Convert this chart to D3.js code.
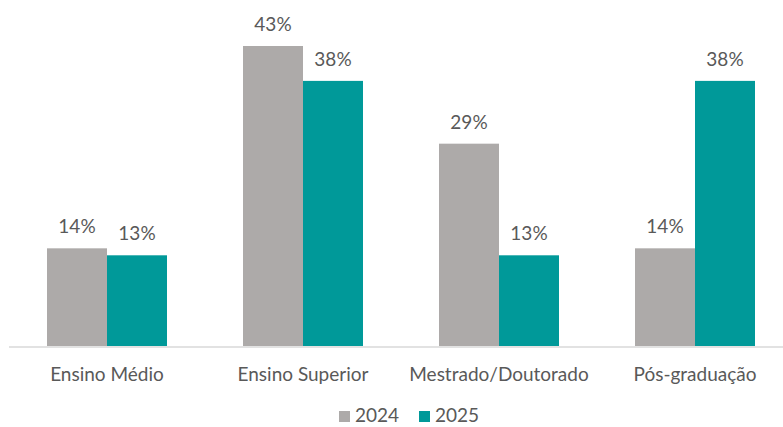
<!DOCTYPE html>
<html>
<head>
<meta charset="utf-8">
<script src="https://cdn.jsdelivr.net/npm/d3@7"></script>
<style>
  html, body { margin: 0; padding: 0; background: #fff; }
  svg { display: block; }
  text { font-family: Lato, "Open Sans", sans-serif; fill: #595959; }
</style>
</head>
<body>
<svg id="chart" width="783" height="427"></svg>
<script>
// Education level, share of respondents by year
const categories = ["Ensino Médio", "Ensino Superior", "Mestrado/Doutorado", "Pós-graduação"];
const series = ["2024", "2025"];
const values2024 = [14, 43, 29, 14];
const values2025 = [13, 38, 13, 38];
const colors = ["#ADAAA9", "#009999"];

const seriesValues = [values2024, values2025];
const rows = categories.map((c, i) => ({
  category: c,
  bars: series.map((s, j) => ({ series: s, value: seriesValues[j][i], color: colors[j] }))
}));

const svg = d3.select("#chart");
const baseY = 346;
const fontSize = "19px";

const x0 = d3.scaleBand()
  .domain(categories)
  .range([9, 793])
  .paddingInner(0.3878)
  .paddingOuter(0.1939);

const x1 = d3.scaleBand()
  .domain(series)
  .range([0, x0.bandwidth()]);

const y = d3.scaleLinear()
  .domain([0, 43])
  .range([baseY, 46]);

const groups = svg.append("g")
  .selectAll("g")
  .data(rows)
  .join("g")
  .attr("transform", d => `translate(${x0(d.category)},0)`);

groups.selectAll("rect")
  .data(d => d.bars)
  .join("rect")
  .attr("x", d => x1(d.series))
  .attr("width", x1.bandwidth())
  .attr("y", d => y(d.value))
  .attr("height", d => baseY - y(d.value))
  .attr("fill", d => d.color);

groups.selectAll("text.val")
  .data(d => d.bars)
  .join("text")
  .attr("class", "val")
  .attr("x", d => x1(d.series) + x1.bandwidth() / 2)
  .attr("y", d => y(d.value) - 15)
  .attr("text-anchor", "middle")
  .style("font-size", fontSize)
  .text(d => d.value + "%");

// category axis
svg.append("line")
  .attr("x1", 9).attr("x2", 783)
  .attr("y1", baseY + 1).attr("y2", baseY + 1)
  .attr("stroke", "#d9d9d9")
  .attr("stroke-width", 1.5);

svg.append("g")
  .selectAll("text")
  .data(categories)
  .join("text")
  .attr("x", d => x0(d) + x0.bandwidth() / 2)
  .attr("y", 381)
  .attr("text-anchor", "middle")
  .style("font-size", fontSize)
  .text(d => d);

// legend
const legendX = [339, 419];
const legend = svg.append("g")
  .selectAll("g")
  .data(series)
  .join("g")
  .attr("transform", (d, i) => `translate(${legendX[i]},0)`);

legend.append("rect")
  .attr("x", 0).attr("y", 411)
  .attr("width", 11).attr("height", 11)
  .attr("fill", (d, i) => colors[i]);

legend.append("text")
  .attr("x", 16)
  .attr("y", 422)
  .style("font-size", fontSize)
  .text(d => d);
</script>
</body>
</html>
